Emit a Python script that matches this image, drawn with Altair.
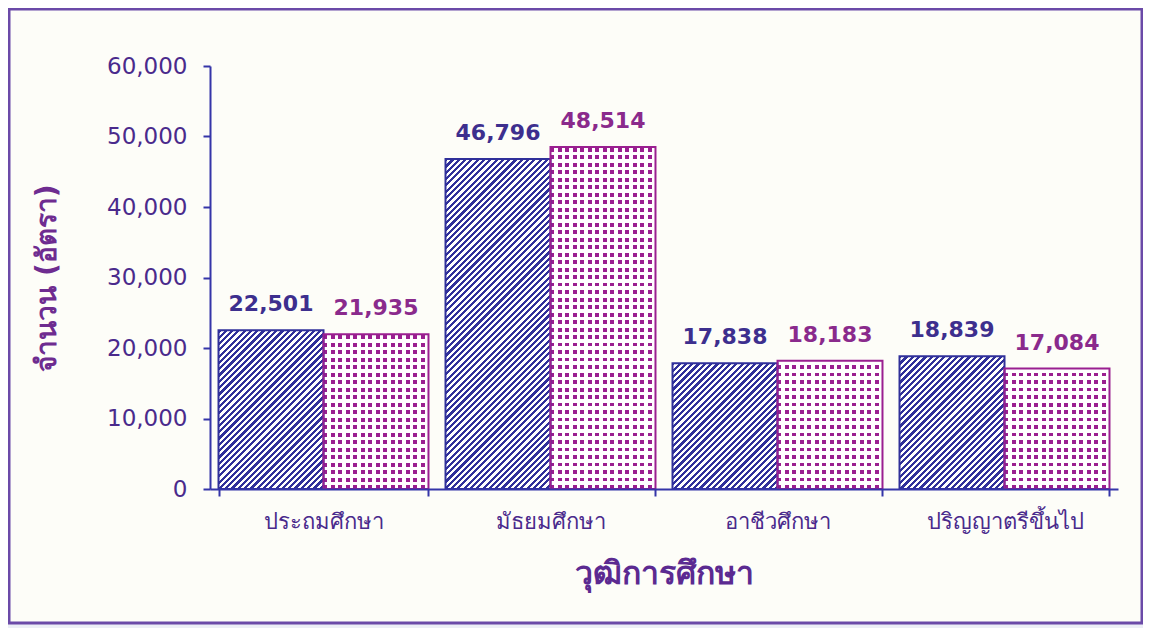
import math
import altair as alt
import pandas as pd

# ---- data ----
categories = ["ประถมศึกษา", "มัธยมศึกษา", "อาชีวศึกษา", "ปริญญาตรีขึ้นไป"]
series_names = ["ชุดที่ 1", "ชุดที่ 2"]
series1_values = [22501, 46796, 17838, 18839]
series2_values = [21935, 48514, 18183, 17084]
y_ticks = [0, 10000, 20000, 30000, 40000, 50000, 60000]

# ---- layout / style ----
W, H = 908, 423
Y_MAX = 60000
PAD_INNER, PAD_OUTER = 0.075, 0.0375
NAVY = "#30309a"
MAGENTA = "#9a1f90"
LABEL1 = "#3d2f8e"
LABEL2 = "#8a2a8c"
AXIS_COL = "#3535a8"
TEXT_COL = "#4a2a8c"
FONT = "DejaVu Sans"

rows = []
for c, v1, v2 in zip(categories, series1_values, series2_values):
    rows.append({"cat": c, "series": series_names[0], "value": v1})
    rows.append({"cat": c, "series": series_names[1], "value": v2})
df = pd.DataFrame(rows)

step = W / (len(categories) - PAD_INNER + 2 * PAD_OUTER)
bar_w = step * (1 - PAD_INNER) / 2


def diag_gradient(h):
    """navy '/' stripes on white, 45 degrees in pixel space"""
    w = bar_w
    k = (w + h) / (w * w + h * h)
    period = 6.3
    n = (w + h) / period
    stops = []
    i = 0
    while i / n < 1:
        a, b, c = i / n, min((i + 0.5) / n, 1), min((i + 1) / n, 1)
        stops += [alt.GradientStop(offset=a, color=NAVY),
                  alt.GradientStop(offset=b, color=NAVY),
                  alt.GradientStop(offset=b, color="#ffffff"),
                  alt.GradientStop(offset=c, color="#ffffff")]
        i += 1
    return alt.LinearGradient(gradient="linear", stops=stops,
                              x1=0, y1=0, x2=k * w, y2=k * h)


def stripe_gradient(length, period, frac, vertical):
    n = length / period
    clear = "rgba(255,255,255,0)"
    stops = []
    i = 0
    while i / n < 1:
        a, b, c = i / n, min((i + frac) / n, 1), min((i + 1) / n, 1)
        stops += [alt.GradientStop(offset=a, color=clear),
                  alt.GradientStop(offset=b, color=clear),
                  alt.GradientStop(offset=b, color="#ffffff"),
                  alt.GradientStop(offset=c, color="#ffffff")]
        i += 1
    if vertical:
        return alt.LinearGradient(gradient="linear", stops=stops, x1=0, y1=1, x2=0, y2=0)
    return alt.LinearGradient(gradient="linear", stops=stops, x1=0, y1=0, x2=1, y2=0)


x_enc = alt.X("cat:N", sort=categories,
              scale=alt.Scale(paddingInner=PAD_INNER, paddingOuter=PAD_OUTER),
              axis=alt.Axis(title="วุฒิการศึกษา", labelAngle=0, tickBand="extent", zindex=1,
                            domainColor=AXIS_COL, domainWidth=2, tickColor=AXIS_COL,
                            tickWidth=2, tickSize=7, labelFontSize=22, labelColor=TEXT_COL,
                            labelPadding=15, titleFontSize=32, titleFontWeight="bold",
                            titleColor="#5b2a91", titlePadding=26))
xo_enc = alt.XOffset("series:N", sort=series_names,
                     scale=alt.Scale(paddingInner=0, paddingOuter=0))
y_enc = alt.Y("value:Q", scale=alt.Scale(domain=[0, Y_MAX], nice=False),
              axis=alt.Axis(title="จำนวน (อัตรา)", values=y_ticks, format=",.0f", zindex=1,
                            grid=False, domainColor=AXIS_COL, domainWidth=2,
                            tickColor=AXIS_COL, tickWidth=2, tickSize=7,
                            labelFontSize=23, labelColor=TEXT_COL, labelFont=FONT,
                            labelPadding=16, titleFontSize=28, titleFontWeight="bold",
                            titleColor="#6e2c90", titlePadding=45))

base = alt.Chart(df).encode(x=x_enc, xOffset=xo_enc, y=y_enc)

frame = alt.Chart(alt.Data(values=[{}])).mark_rect(
    fill="#fdfdf8", stroke="#6b4aa8", strokeWidth=3
).encode(x=alt.value(-201), x2=alt.value(932), y=alt.value(-57), y2=alt.value(557))

layers = [frame]

# series 1: diagonal stripes, one gradient per bar
for c, v in zip(categories, series1_values):
    h = v / Y_MAX * H
    layers.append(
        base.transform_filter((alt.datum.cat == c) & (alt.datum.series == series_names[0]))
        .mark_bar(fill=diag_gradient(h), strokeWidth=0)
    )

# series 2: magenta dots = magenta base with white grid lines over it
s2 = base.transform_filter(alt.datum.series == series_names[1])
layers.append(s2.mark_bar(fill=MAGENTA, strokeWidth=0))
layers.append(s2.mark_bar(fill=stripe_gradient(bar_w, 7.5, 0.5, False), strokeWidth=0))
for c, v in zip(categories, series2_values):
    h = v / Y_MAX * H
    layers.append(
        base.transform_filter((alt.datum.cat == c) & (alt.datum.series == series_names[1]))
        .mark_bar(fill=stripe_gradient(h, 7.5, 0.5, True), strokeWidth=0)
    )

# outlines
layers.append(
    base.mark_bar(fillOpacity=0, strokeWidth=2).encode(
        stroke=alt.Stroke("series:N", sort=series_names,
                          scale=alt.Scale(domain=series_names, range=[NAVY, MAGENTA]),
                          legend=None)
    )
)

# value labels
for s, col in zip(series_names, [LABEL1, LABEL2]):
    layers.append(
        base.transform_filter(alt.datum.series == s)
        .mark_text(font=FONT, fontSize=22, fontWeight="bold", color=col,
                   baseline="bottom", dy=-14)
        .encode(text=alt.Text("value:Q", format=",.0f"))
    )

chart = alt.layer(*layers).properties(
    width=W, height=H,
    autosize=alt.AutoSizeParams(type="none"),
    padding={"left": 202, "top": 58, "right": 25, "bottom": 139},
    background="#eceef6",
).configure_view(stroke=None).configure_axis(titleFont=FONT, labelFont=FONT)

chart.save("out.html", embed_options={"renderer": "svg", "actions": False})
